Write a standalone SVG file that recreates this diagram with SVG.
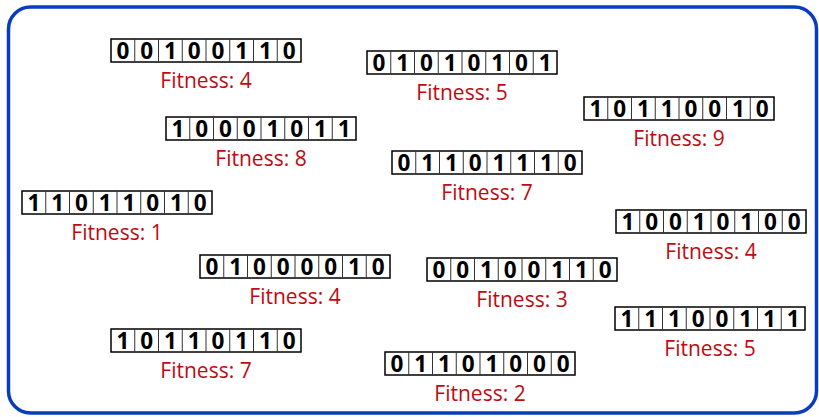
<svg xmlns="http://www.w3.org/2000/svg" xmlns:xlink="http://www.w3.org/1999/xlink" width="819" height="417" viewBox="0 0 819 417">
<style>
.frame{fill:#fff;stroke:#0a3cc0;stroke-width:3.5}
.grid{fill:#fff;stroke:#000;stroke-width:1.5}
.sep{stroke:#333;stroke-width:1;fill:none}
.bits{font-family:"Open Sans","Liberation Sans",sans-serif;font-weight:bold;font-size:22.5px;fill:#000;text-anchor:middle}
.fit{font-family:"Open Sans","Liberation Sans",sans-serif;font-size:21px;fill:#bf0a10;text-anchor:middle}
</style>
<defs>
<g id="cells">
<rect class="grid" x="0" y="0" width="190" height="23"/>
<path class="sep" d="M23.75 0V23M47.5 0V23M71.25 0V23M95 0V23M118.75 0V23M142.5 0V23M166.25 0V23"/>
</g>
</defs>
<rect class="frame" x="8.5" y="7" width="808" height="406" rx="22"/>
<g id="connectors"></g>
<g id="n1" transform="translate(111,39)"><use xlink:href="#cells"/><text class="bits" x="11.9 35.6 59.4 83.1 106.9 130.6 154.4 178.1" y="19.5">00100110</text><text class="fit" x="95" y="48.5">Fitness: 4</text></g>
<g id="n2" transform="translate(367,51)"><use xlink:href="#cells"/><text class="bits" x="11.9 35.6 59.4 83.1 106.9 130.6 154.4 178.1" y="19.5">01010101</text><text class="fit" x="95" y="48.5">Fitness: 5</text></g>
<g id="n3" transform="translate(584,97)"><use xlink:href="#cells"/><text class="bits" x="11.9 35.6 59.4 83.1 106.9 130.6 154.4 178.1" y="19.5">10110010</text><text class="fit" x="95" y="48.5">Fitness: 9</text></g>
<g id="n4" transform="translate(166,117)"><use xlink:href="#cells"/><text class="bits" x="11.9 35.6 59.4 83.1 106.9 130.6 154.4 178.1" y="19.5">10001011</text><text class="fit" x="95" y="48.5">Fitness: 8</text></g>
<g id="n5" transform="translate(392,151)"><use xlink:href="#cells"/><text class="bits" x="11.9 35.6 59.4 83.1 106.9 130.6 154.4 178.1" y="19.5">01101110</text><text class="fit" x="95" y="48.5">Fitness: 7</text></g>
<g id="n6" transform="translate(22,191)"><use xlink:href="#cells"/><text class="bits" x="11.9 35.6 59.4 83.1 106.9 130.6 154.4 178.1" y="19.5">11011010</text><text class="fit" x="95" y="48.5">Fitness: 1</text></g>
<g id="n7" transform="translate(616,210)"><use xlink:href="#cells"/><text class="bits" x="11.9 35.6 59.4 83.1 106.9 130.6 154.4 178.1" y="19.5">10010100</text><text class="fit" x="95" y="48.5">Fitness: 4</text></g>
<g id="n8" transform="translate(200,255)"><use xlink:href="#cells"/><text class="bits" x="11.9 35.6 59.4 83.1 106.9 130.6 154.4 178.1" y="19.5">01000010</text><text class="fit" x="95" y="48.5">Fitness: 4</text></g>
<g id="n9" transform="translate(427,258)"><use xlink:href="#cells"/><text class="bits" x="11.9 35.6 59.4 83.1 106.9 130.6 154.4 178.1" y="19.5">00100110</text><text class="fit" x="95" y="48.5">Fitness: 3</text></g>
<g id="n10" transform="translate(615,307)"><use xlink:href="#cells"/><text class="bits" x="11.9 35.6 59.4 83.1 106.9 130.6 154.4 178.1" y="19.5">11100111</text><text class="fit" x="95" y="48.5">Fitness: 5</text></g>
<g id="n11" transform="translate(111,329)"><use xlink:href="#cells"/><text class="bits" x="11.9 35.6 59.4 83.1 106.9 130.6 154.4 178.1" y="19.5">10110110</text><text class="fit" x="95" y="48.5">Fitness: 7</text></g>
<g id="n12" transform="translate(385,352)"><use xlink:href="#cells"/><text class="bits" x="11.9 35.6 59.4 83.1 106.9 130.6 154.4 178.1" y="19.5">01101000</text><text class="fit" x="95" y="48.5">Fitness: 2</text></g>
</svg>
